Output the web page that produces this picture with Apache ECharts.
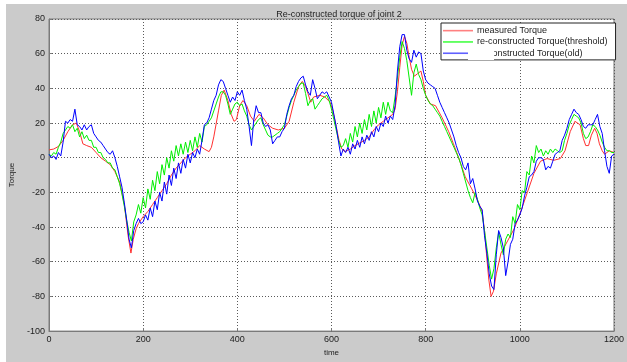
<!DOCTYPE html>
<html>
<head>
<meta charset="utf-8">
<script src="https://cdn.jsdelivr.net/npm/echarts@6/dist/echarts.min.js"></script>
<style>
  html, body { margin: 0; padding: 0; background: #ffffff; }
  #bg { position: absolute; left: 6px; top: 4px; width: 621px; height: 358px; background: #cbcbcb; }
  #chart { position: absolute; left: 0; top: 0; width: 627px; height: 362px; }
</style>
</head>
<body>
<div id="bg"></div>
<div id="chart"></div>
<script>
// ---- data ----
const titleText = 'Re-constructed torque of joint 2';
const seriesNames = ['measured Torque', 're-constructed Torque(threshold)', 're-constructed Torque(old)'];
const xTicks = { min: 0, max: 1200, step: 200 };
const yTicks = { min: -100, max: 80, step: 20 };

// measured torque (smooth): time / value pairs
const measuredTime = [0,10,20,30,40,50,58,65,72,80,90,100,110,120,130,140,150,160,168,174,179,185,190,200,210,220,230,240,250,260,270,280,290,300,310,320,330,340,345,350,360,366,372,380,387,393,398,405,412,420,428,436,446,455,465,475,487,500,510,520,530,538,545,550,556,562,575,586,597,603,610,616,622,628,640,650,660,670,680,690,700,710,720,730,735,740,745,750,755,760,765,770,776,783,790,795,800,810,821,835,849,859,870,884,898,911,920,925,929,934,939,944,950,960,974,988,1002,1016,1030,1044,1058,1072,1086,1096,1107,1117,1128,1135,1140,1146,1152,1159,1164,1169,1175,1180,1190,1200];
const measuredValue = [4.5,5,6.5,10,15,19,20,15,8,7,6,3,0,-2,-4,-8,-14,-27,-45,-55,-47,-41,-38,-34,-31,-27,-23,-19,-15,-10,-6,-3,0,2,4,7,5,3.5,6,12,27,36,39,33,25,21,22,30,33,30,24,21,25,23,19,17,16,17,21,32,41,44,41,37,32,35,36,35,32,27,18,10,5,3.5,5,7,8.5,10,12,16,19,21,23,25,28,38,52,65,70,66,58,51,47,48.5,50,44,36,31,30,23,15,8,0,-11,-18,-25,-31,-42,-55,-70,-80,-77,-67,-55,-48,-41,-31,-20,-9,-2,-0.5,-1.5,-0.5,4,15,21,19,11,7,7,13,17,14,8,4,2,4,3];

// reconstructed series sampled every 5 time units (0..1200)
const sampleStep = 5;
const thresholdValue = [
  2,1,3,2,6,9,14,16,18,17,
  19,15,17,12,15,11,13,10,10,6,
  6,3,3,0,-1,-3,-3,-6,-7,-11,
  -15,-21,-28,-36,-43,-48,-37,-33,-27,-32,
  -23,-29,-18,-24,-13,-19,-8,-15,-4,-10,
  0,-6,4,-2,7,1,8,2,9,3,
  10,4,12,6,14,9,18,19,21,23,
  27,31,35,38,38,36,31,25,28,31,
  32,30,31,27,24,19,16,18,20,22,
  23,19,16,13,12,12,13,14,15,17,
  19,24,29,33,36,39,41,43,43,37,
  30,33,34,28,30,32,34,35,36,33,
  28,22,16,10,6,7,11,6,14,9,
  18,12,20,14,22,16,25,18,27,20,
  29,23,32,25,32,27,26,35,46,58,
  67,63,56,46,36,49,54,48,45,40,
  36,33,31,30,28,26,24,21,18,15,
  12,9,6,3,0,-4,-9,-14,-19,-23,
  -26,-20,-24,-29,-33,-42,-52,-62,-70,-64,
  -52,-43,-50,-56,-47,-44,-46,-34,-38,-27,
  -30,-19,-20,-8,-10,1,-3,7,3,5,
  1,4,2,5,3,5,4,3,4,10,
  14,19,22,25,24,23,20,14,11,12,
  15,19,18,16,13,9,6,4,4,3,
  3];
const oldValue = [
  2,0,1,-1,3,1,9,21,20,22,
  21,28,19,18,16,19,16,18,19,14,
  12,10,9,7,5,3,2,4,0,-5,
  -11,-17,-26,-36,-47,-52,-42,-38,-35,-38,
  -37,-33,-36,-29,-34,-25,-30,-20,-25,-14,
  -21,-10,-16,-6,-12,-3,-9,-1,-6,2,
  -3,3,0,5,2,10,19,20,23,28,
  33,36,42,45,44,40,36,32,35,33,
  38,36,39,33,28,18,7,22,30,26,
  26,20,18,19,16,8,10,12,12,15,
  17,25,30,34,36,41,44,46,47,42,
  38,36,45,40,34,36,38,37,38,35,
  32,25,18,9,1,5,3,6,2,8,
  5,10,6,12,8,13,10,15,12,18,
  15,20,18,24,20,24,22,30,50,64,
  71,71,62,57,55,62,58,61,60,50,
  45,43,42,41,40,36,32,29,26,23,
  20,16,12,7,3,0,-5,-7,-3,-15,
  -12,-18,-25,-28,-30,-45,-55,-67,-74,-76,
  -56,-42,-46,-52,-68,-60,-50,-47,-38,-36,
  -33,-29,-22,-17,-11,-10,-8,-2,0,0,
  -1,-7,-5,-6,-2,2,3,4,10,13,
  17,22,25,28,26,25,22,18,17,19,
  19,19,22,25,18,14,4,-5,-9,1,
  2];

// ---- build ----
const measuredData = measuredTime.map((t, i) => [t, measuredValue[i]]);
const thresholdData = thresholdValue.map((v, i) => [i * sampleStep, v]);
const oldData = oldValue.map((v, i) => [i * sampleStep, v]);

const chart = echarts.init(document.getElementById('chart'), null, { renderer: 'canvas' });
const font = 'Liberation Sans, Arial, sans-serif';
const gridLine = { show: true, lineStyle: { color: '#5a5a5a', type: [1, 2], width: 1 } };
const lineIcon = 'path://M0,0 L30,0 L30,1.6 L0,1.6 Z';

chart.setOption({
  backgroundColor: 'transparent',
  animation: false,
  title: {
    text: titleText, left: 334, top: 5, textAlign: 'center',
    textStyle: { fontFamily: font, fontSize: 9, fontWeight: 'normal', color: '#222' }
  },
  grid: { left: 45, right: 4, top: 19, bottom: 24, show: true, backgroundColor: '#ffffff', borderColor: '#7a7a7a', borderWidth: 1, containLabel: false },
  legend: {
    orient: 'vertical', left: 441, top: 23, itemGap: 0, itemWidth: 30, itemHeight: 2,
    backgroundColor: '#ffffff', borderColor: '#222', borderWidth: 1, borderRadius: 0,
    padding: [2, 8, 1, 2],
    textStyle: { fontFamily: font, fontSize: 9, lineHeight: 11.3, color: '#222', padding: [0, 0, 0, -1] },
    data: seriesNames.map(n => ({ name: n, icon: lineIcon }))
  },
  xAxis: {
    type: 'value', min: xTicks.min, max: xTicks.max, interval: xTicks.step,
    name: 'time', nameLocation: 'middle', nameGap: 15,
    nameTextStyle: { fontFamily: font, fontSize: 8, color: '#222' },
    axisLine: { show: true, onZero: false, lineStyle: { color: '#7a7a7a' } },
    axisTick: { show: true, inside: true, length: 3, lineStyle: { color: '#7a7a7a' } },
    axisLabel: { fontFamily: font, fontSize: 9, color: '#222', margin: 4, formatter: v => String(v) },
    splitLine: gridLine
  },
  yAxis: {
    type: 'value', min: yTicks.min, max: yTicks.max, interval: yTicks.step,
    name: 'Torque', nameLocation: 'middle', nameGap: 33, nameRotate: 90,
    nameTextStyle: { fontFamily: font, fontSize: 8, color: '#222' },
    axisLine: { show: true, onZero: false, lineStyle: { color: '#7a7a7a' } },
    axisTick: { show: true, inside: true, length: 3, lineStyle: { color: '#7a7a7a' } },
    axisLabel: { fontFamily: font, fontSize: 9, color: '#222', margin: 4, formatter: v => String(v) },
    splitLine: gridLine
  },
  series: [
    { name: seriesNames[0], type: 'line', data: measuredData, showSymbol: false, symbol: 'none',
      lineStyle: { color: '#ff3030', width: 1 }, itemStyle: { color: '#ff8080' }, z: 2 },
    { name: seriesNames[1], type: 'line', data: thresholdData, showSymbol: false, symbol: 'none',
      lineStyle: { color: '#00ee00', width: 1 }, itemStyle: { color: '#44ff44' }, z: 3 },
    { name: seriesNames[2], type: 'line', data: oldData, showSymbol: false, symbol: 'none',
      lineStyle: { color: '#0000ff', width: 1 }, itemStyle: { color: '#6060ff' }, z: 4 }
  ],
  graphic: [
    { type: 'rect', left: 468, top: 50, shape: { width: 26, height: 10 }, style: { fill: '#ffffff' }, z: 100 }
  ]
});
</script>
</body>
</html>
